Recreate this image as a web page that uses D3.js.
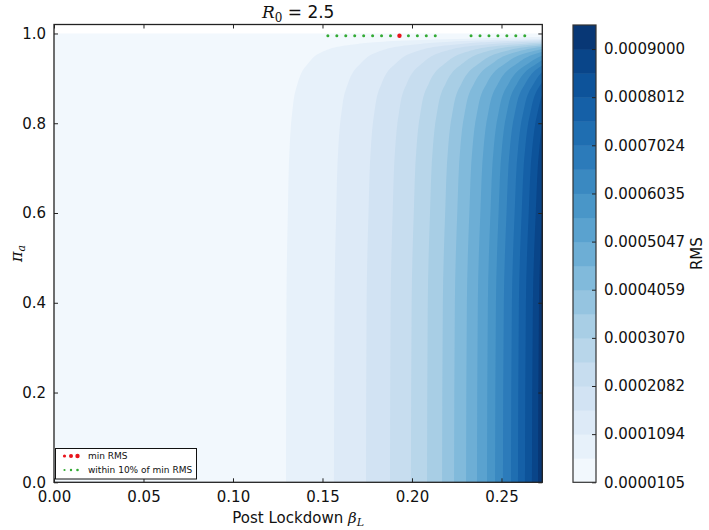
<!DOCTYPE html>
<html>
<head>
<meta charset="utf-8">
<script src="https://cdn.jsdelivr.net/npm/d3@7"></script>
<style>
  body { margin: 0; background: #fff; }
  svg text { font-family: "DejaVu Sans", sans-serif; fill: #111; }
  .math { font-family: "DejaVu Serif", serif; font-style: italic; }
</style>
</head>
<body>
<svg id="chart" width="709" height="530"></svg>
<script>
// contour level values (colorbar band edges)
const levels = [0.0000105, 0.0000599, 0.0001094, 0.0001588, 0.0002082, 0.0002576, 0.0003070,
  0.0003565, 0.0004059, 0.0004553, 0.0005047, 0.0005541, 0.0006035, 0.0006530, 0.0007024,
  0.0007518, 0.0008012, 0.0008506, 0.0009000, 0.0009494];
// beta_L at which each level boundary sits along the bottom (pi_a = 0)
const boundaryBeta = [0.1296, 0.1564, 0.1743, 0.1877, 0.1994, 0.2084, 0.2168, 0.2235, 0.2302,
  0.2363, 0.2419, 0.2464, 0.2508, 0.2553, 0.2592, 0.2631, 0.2670, 0.2704];
// how far the boundaries bend to the right as pi_a grows
const bendPi = [0, 0.4, 0.6, 0.75, 0.82, 0.88, 0.93, 0.96, 0.975, 0.985, 0.993, 1.0];
const bendScale = [1, 1.002, 1.008, 1.016, 1.026, 1.045, 1.09, 1.16, 1.28, 1.55, 2.2, 3.0];

const withinBeta = [0.153, 0.158, 0.163, 0.168, 0.173, 0.178, 0.183, 0.188, 0.193, 0.198, 0.203,
  0.208, 0.213, 0.233, 0.238, 0.243, 0.248, 0.253, 0.258, 0.263];
const minBeta = [0.193];
const dotPi = 0.995;

const xTicks = [0, 0.05, 0.10, 0.15, 0.20, 0.25];
const yTicks = [0, 0.2, 0.4, 0.6, 0.8, 1.0];

const plot = { left: 54, right: 542.3, top: 24.5, bottom: 482.3 };
const cbar = { left: 573, right: 596, top: 25, bottom: 482.3 };

const svg = d3.select('#chart');
svg.append('rect').attr('width', 709).attr('height', 530).attr('fill', '#fff');

const x = d3.scaleLinear().domain([0, 0.2728]).range([plot.left, plot.right]);
const y = d3.scaleLinear().domain([0, 1.02]).range([plot.bottom, plot.top]);

const nBands = levels.length - 1;
const bandColor = i => d3.interpolateBlues((i + 0.5) / nBands);

svg.append('clipPath').attr('id', 'clip')
  .append('rect')
  .attr('x', plot.left).attr('y', plot.top)
  .attr('width', plot.right - plot.left).attr('height', plot.bottom - plot.top);

const bands = d3.range(nBands).map(i => {
  const b0 = i === 0 ? 0 : boundaryBeta[i - 1];
  return bendPi.map((p, j) => ({ pi: p, beta: b0 * bendScale[j] }));
});

const area = d3.area()
  .y(d => y(d.pi))
  .x0(d => x(d.beta))
  .x1(() => x(0.35))
  .curve(d3.curveMonotoneY);

svg.append('g').attr('clip-path', 'url(#clip)')
  .selectAll('path').data(bands).join('path')
  .attr('d', area)
  .attr('fill', (d, i) => bandColor(i));

// dots
const dots = svg.append('g');
dots.selectAll('.within').data(withinBeta).join('circle')
  .attr('cx', d => x(d)).attr('cy', y(dotPi)).attr('r', 1.5)
  .attr('fill', '#33aa33');
dots.selectAll('.min').data(minBeta).join('circle')
  .attr('cx', d => x(d)).attr('cy', y(dotPi)).attr('r', 2.2)
  .attr('fill', '#e8141b');

// axes
const tickLen = 4;
const styleAxis = g => {
  g.select('.domain').remove();
  g.selectAll('.tick line').attr('stroke', '#222');
  g.selectAll('.tick text').style('font-size', '15px');
};
svg.append('g').attr('transform', `translate(0,${plot.bottom})`)
  .call(d3.axisBottom(x).tickValues(xTicks).tickFormat(d3.format('.2f')).tickSizeInner(-tickLen).tickPadding(9))
  .call(styleAxis);
svg.append('g').attr('transform', `translate(0,${plot.top})`)
  .call(d3.axisTop(x).tickValues(xTicks).tickFormat('').tickSizeInner(-tickLen))
  .call(styleAxis);
svg.append('g').attr('transform', `translate(${plot.left},0)`)
  .call(d3.axisLeft(y).tickValues(yTicks).tickFormat(d3.format('.1f')).tickSizeInner(-tickLen).tickPadding(8))
  .call(styleAxis);
svg.append('g').attr('transform', `translate(${plot.right},0)`)
  .call(d3.axisRight(y).tickValues(yTicks).tickFormat('').tickSizeInner(-tickLen))
  .call(styleAxis);
svg.selectAll('.tick text').attr('font-family', 'DejaVu Sans');

svg.append('rect')
  .attr('x', plot.left).attr('y', plot.top)
  .attr('width', plot.right - plot.left).attr('height', plot.bottom - plot.top)
  .attr('fill', 'none').attr('stroke', '#222').attr('stroke-width', 1.3);

// title and labels
const title = svg.append('text').attr('x', (plot.left + plot.right) / 2).attr('y', 18)
  .attr('text-anchor', 'middle').style('font-size', '17px');
title.append('tspan').attr('class', 'math').text('R');
title.append('tspan').attr('class', 'math').style('font-style', 'normal').style('font-size', '12px').attr('dy', 4).text('0');
title.append('tspan').attr('dy', -4).text(' = 2.5');

const xl = svg.append('text').attr('x', (plot.left + plot.right) / 2).attr('y', 523)
  .attr('text-anchor', 'middle').style('font-size', '15px');
xl.append('tspan').text('Post Lockdown ');
xl.append('tspan').attr('class', 'math').text('β');
xl.append('tspan').attr('class', 'math').style('font-size', '11px').attr('dy', 3).text('L');

const yl = svg.append('text').attr('transform', `translate(22,${(plot.top + plot.bottom) / 2}) rotate(-90)`)
  .attr('text-anchor', 'middle').style('font-size', '16px');
yl.append('tspan').attr('class', 'math').text('π');
yl.append('tspan').attr('class', 'math').style('font-size', '11px').attr('dy', 3).text('a');

// legend
const lg = svg.append('g');
lg.append('rect').attr('x', 55.5).attr('y', 448.5).attr('width', 141).attr('height', 30.5)
  .attr('fill', '#fff').attr('stroke', '#111').attr('stroke-width', 1);
const legendItems = [
  { label: 'min RMS', color: '#e8141b', r: [1.6, 2.0, 2.2], yy: 456 },
  { label: 'within 10% of min RMS', color: '#33aa33', r: [1.1, 1.2, 1.3], yy: 470 }
];
legendItems.forEach(it => {
  lg.selectAll(null).data(it.r).join('circle')
    .attr('cx', (d, i) => 64.5 + i * 6.5).attr('cy', it.yy).attr('r', d => d).attr('fill', it.color);
  lg.append('text').attr('x', 88).attr('y', it.yy + 3.2).style('font-size', '9px').text(it.label);
});

// colorbar
const cy = d3.scaleLinear().domain([levels[0], levels[levels.length - 1]]).range([cbar.bottom, cbar.top]);
svg.append('g').selectAll('rect').data(d3.range(nBands)).join('rect')
  .attr('x', cbar.left).attr('width', cbar.right - cbar.left)
  .attr('y', i => cy(levels[i + 1])).attr('height', i => cy(levels[i]) - cy(levels[i + 1]) + 0.5)
  .attr('fill', i => bandColor(i));
const cTicks = levels.filter((d, i) => i % 2 === 0);
svg.append('g').attr('transform', `translate(${cbar.right},0)`)
  .call(d3.axisRight(cy).tickValues(cTicks).tickFormat(d => d.toFixed(7)).tickSizeInner(-tickLen).tickPadding(8))
  .call(styleAxis);
svg.append('rect')
  .attr('x', cbar.left).attr('y', cbar.top)
  .attr('width', cbar.right - cbar.left).attr('height', cbar.bottom - cbar.top)
  .attr('fill', 'none').attr('stroke', '#333').attr('stroke-width', 1.2);
svg.append('text').attr('transform', `translate(702,${(cbar.top + cbar.bottom) / 2}) rotate(-90)`)
  .attr('text-anchor', 'middle').style('font-size', '15px').text('RMS');
</script>
</body>
</html>
